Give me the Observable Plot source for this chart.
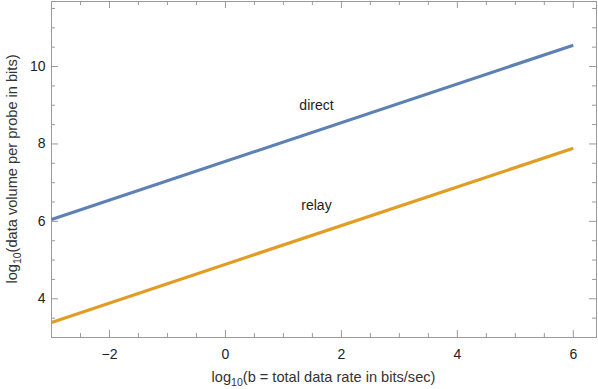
<!DOCTYPE html>
<html><head><meta charset="utf-8">
<script src="https://cdn.jsdelivr.net/npm/d3@7"></script>
<script src="https://cdn.jsdelivr.net/npm/@observablehq/plot@0.6"></script>
<style>body{margin:0;background:#fff}</style>
</head><body><div id="chart"></div>
<script>
// ---- data ----
const xValues = [-3, 6];
const directValues = [6.05, 10.55];
const relayValues = [3.39, 7.89];
const seriesNames = ["direct", "relay"];
const labelX = [1.57, 1.57];
const labelY = [9.0, 6.4];
const xTickValues = [-2, 0, 2, 4, 6];
const yTickValues = [4, 6, 8, 10];
const xDomain = [-3, 6.4];
const yDomain = [3, 11.68];
const xLabelParts = ["log", "10", "(b = total data rate in bits/sec)"];
const yLabelParts = ["log", "10", "(data volume per probe in bits)"];

const rows = [];
xValues.forEach((x, i) => {
  rows.push({series: "direct", x, y: directValues[i]});
  rows.push({series: "relay", x, y: relayValues[i]});
});
const labels = seriesNames.map((s, i) => ({name: s, x: labelX[i], y: labelY[i]}));
const colors = {direct: "#5e81b5", relay: "#e19c24"};

const W = 598, H = 389, mL = 51, mR = 2, mT = 1, mB = 52;
const ph = H - mT - mB, pw = W - mL - mR;
const xMinor = d3.range(-3, 6.41, 0.5).filter(v => !xTickValues.includes(v));
const yMinor = d3.range(3, 11.7, 0.5).filter(v => !yTickValues.includes(v));
const frameColor = "#9a9a9a";
const majorLen = 7, minorLen = 4;

const chart = Plot.plot({
  width: W, height: H,
  marginLeft: mL, marginRight: mR, marginTop: mT, marginBottom: mB,
  style: {fontFamily: "'Liberation Sans', Arial, sans-serif", fontSize: "14px", color: "#222", background: "#fff"},
  x: {domain: xDomain, ticks: xTickValues, tickSize: 0, tickPadding: 12, label: null},
  y: {domain: yDomain, ticks: yTickValues, tickSize: 0, tickPadding: 6, label: null},
  marks: [
    Plot.frame({stroke: frameColor}),
    // bottom ticks
    Plot.tickX(xTickValues, {x: d => d, insetTop: ph - majorLen, stroke: frameColor}),
    Plot.tickX(xMinor, {x: d => d, insetTop: ph - minorLen, stroke: frameColor}),
    // top ticks
    Plot.tickX(xTickValues, {x: d => d, insetBottom: ph - majorLen, stroke: frameColor}),
    Plot.tickX(xMinor, {x: d => d, insetBottom: ph - minorLen, stroke: frameColor}),
    // left ticks
    Plot.tickY(yTickValues, {y: d => d, insetRight: pw - majorLen, stroke: frameColor}),
    Plot.tickY(yMinor, {y: d => d, insetRight: pw - minorLen, stroke: frameColor}),
    // right ticks
    Plot.tickY(yTickValues, {y: d => d, insetLeft: pw - majorLen, stroke: frameColor}),
    Plot.tickY(yMinor, {y: d => d, insetLeft: pw - minorLen, stroke: frameColor}),
    Plot.line(rows, {x: "x", y: "y", z: "series", stroke: d => colors[d.series], strokeWidth: 3.2, strokeLinecap: "butt"}),
    Plot.text(labels, {x: "x", y: "y", text: "name", fill: "#222", fontSize: 14})
  ]
});
document.getElementById("chart").appendChild(chart);

// axis titles with subscripts
const svg = d3.select(chart);
function addLabel(parts, x, y, rotate) {
  const t = svg.append("text")
    .attr("text-anchor", "middle")
    .attr("fill", "#333")
    .attr("font-size", 14.6)
    .attr("transform", `translate(${x},${y})` + (rotate ? " rotate(-90)" : ""));
  t.append("tspan").text(parts[0]);
  t.append("tspan").attr("font-size", 10.5).attr("dy", 3.5).text(parts[1]);
  t.append("tspan").attr("dy", -3.5).text(parts[2]);
}
addLabel(xLabelParts, mL + pw / 2, 382, false);
addLabel(yLabelParts, 17, mT + ph / 2, true);
</script>
</body></html>
